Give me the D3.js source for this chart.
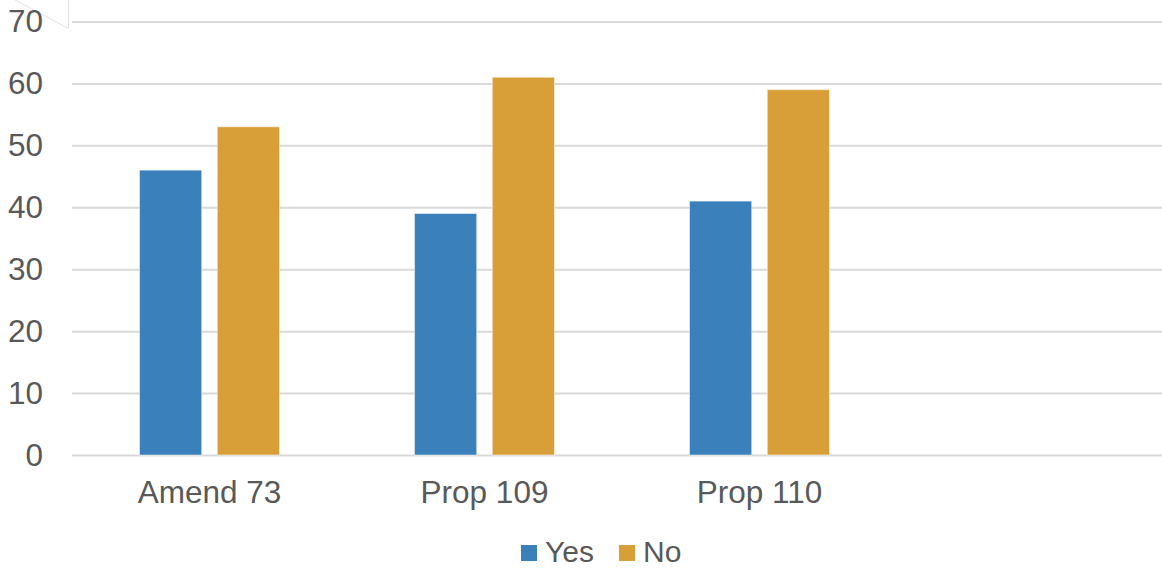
<!DOCTYPE html>
<html>
<head>
<meta charset="utf-8">
<script src="https://cdn.jsdelivr.net/npm/d3@7"></script>
<style>
  html, body { margin: 0; padding: 0; background: #fff; }
  svg { display: block; }
  text { font-family: "Liberation Sans", Arial, sans-serif; fill: #595959; }
</style>
</head>
<body>
<svg id="chart" width="1162" height="568"></svg>
<script>
const categories = ["Amend 73", "Prop 109", "Prop 110", ""];
const seriesNames = ["Yes", "No"];
const yesValues = [46, 39, 41, null];
const noValues = [53, 61, 59, null];
const yTicks = [0, 10, 20, 30, 40, 50, 60, 70];
const colors = ["#3A80BA", "#D89F38"];

const svg = d3.select("#chart");
const W = 1162, H = 568;
const mLeft = 72, plotRight = 1172, mTop = 21.5, mBottom = 455;

const x = d3.scaleBand().domain(categories).range([mLeft, plotRight]).paddingInner(0).paddingOuter(0);
const groupW = 140;
const x1 = d3.scaleBand().domain(seriesNames).range([0, groupW]).paddingInner(0.2).paddingOuter(0);
const y = d3.scaleLinear().domain([0, 70]).range([mBottom, mTop]);

// corner artifact
svg.append("path").attr("d", "M15,0 L68.5,28.5 L68.5,0")
  .attr("fill", "none").attr("stroke", "#e3e3e3").attr("stroke-width", 1);

// gridlines
const yAxis = d3.axisLeft(y).tickValues(yTicks).tickSize(-(W - mLeft)).tickPadding(29);
const gy = svg.append("g").attr("transform", `translate(${mLeft},0)`).call(yAxis);
gy.select(".domain").remove();
gy.selectAll(".tick line").attr("stroke", "#d9d9d9").attr("stroke-width", 2);
gy.selectAll(".tick text").attr("font-size", "31.5px").attr("fill", "#595959")
  .attr("dy", "0.33em");

// bars
const data = categories.map((c, i) => ({ cat: c, vals: [yesValues[i], noValues[i]] }));
const groups = svg.append("g").selectAll("g").data(data).join("g")
  .attr("transform", d => `translate(${x(d.cat) + (x.bandwidth() - groupW) / 2},0)`);
groups.selectAll("rect").data(d => d.vals.map((v, j) => ({ s: seriesNames[j], v, j })).filter(e => e.v != null))
  .join("rect")
  .attr("x", e => x1(e.s))
  .attr("width", x1.bandwidth())
  .attr("y", e => y(e.v))
  .attr("height", e => y(0) - y(e.v))
  .attr("fill", e => colors[e.j])
  .attr("stroke", "#ffffff").attr("stroke-opacity", 0.5).attr("stroke-width", 1);

// x axis labels
const xAxis = d3.axisBottom(x).tickSize(0).tickPadding(26);
const gx = svg.append("g").attr("transform", `translate(0,${mBottom})`).call(xAxis);
gx.select(".domain").remove();
gx.selectAll(".tick text").attr("font-size", "31.5px").attr("fill", "#595959");

// legend
const legendItems = [{ name: "Yes", x: 521, tx: 545 }, { name: "No", x: 619, tx: 643 }];
const lg = svg.append("g");
legendItems.forEach((it, i) => {
  lg.append("rect").attr("x", it.x).attr("y", 545).attr("width", 16).attr("height", 16).attr("fill", colors[i]);
  lg.append("text").attr("x", it.tx).attr("y", 561.5).attr("font-size", "30px").text(seriesNames[i]);
});
</script>
</body>
</html>
